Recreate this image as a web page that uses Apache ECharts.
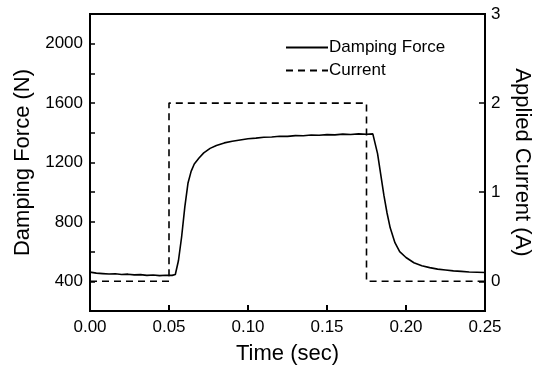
<!DOCTYPE html>
<html>
<head>
<meta charset="utf-8">
<script src="https://cdn.jsdelivr.net/npm/echarts@6/dist/echarts.min.js"></script>
<style>
  html, body { margin: 0; padding: 0; background: #fff; }
  #chart { width: 543px; height: 370px; }
</style>
</head>
<body>
<div id="chart"></div>
<script>
// damping force trace (sec, N)
let forceTime = [0, 0.004, 0.008, 0.012, 0.016, 0.02, 0.024, 0.028, 0.032, 0.036, 0.04, 0.044, 0.048, 0.052, 0.054,
    0.056, 0.058, 0.060, 0.062, 0.064, 0.066, 0.069, 0.072, 0.076, 0.080, 0.085, 0.090, 0.095, 0.100,
    0.105, 0.110, 0.115, 0.120, 0.125, 0.130, 0.135, 0.140, 0.145, 0.150, 0.155, 0.160, 0.165, 0.170,
    0.175, 0.179, 0.180, 0.182, 0.184, 0.186, 0.188, 0.190, 0.193, 0.196, 0.200, 0.205, 0.210, 0.215,
    0.220, 0.225, 0.230, 0.235, 0.240, 0.245, 0.250];
let forceValue = [462, 455, 452, 449, 451, 446, 448, 443, 445, 440, 442, 438, 441, 440, 446,
    540, 700, 900, 1060, 1140, 1190, 1230, 1265, 1295, 1315, 1332, 1343, 1352, 1360,
    1364, 1370, 1372, 1377, 1376, 1381, 1380, 1385, 1384, 1388, 1386, 1391, 1389, 1393,
    1390, 1393, 1380, 1260, 1120, 980, 860, 760, 660, 600, 560, 525, 505, 492,
    482, 476, 470, 467, 463, 461, 459];

// applied current (sec, A)
let currentTime = [0, 0.05, 0.05, 0.175, 0.175, 0.25];
let currentValue = [0, 0, 2, 2, 0, 0];

let xTicks = [0, 0.05, 0.10, 0.15, 0.20, 0.25];
let rightTicks = [0, 1, 2, 3];

function pairs(xs, ys) {
    let d = [];
    xs.forEach(function (x, i) {
        d.push([x, ys[i]]);
    });
    return d;
}

let font = "'Liberation Sans', Arial, sans-serif";
let myEcharts = echarts.init(document.getElementById("chart"));
let option = {
    animation: false,
    grid: {
        left: 90, right: 58, top: 14, bottom: 55,
        show: true, borderColor: "#000", borderWidth: 2
    },
    legend: {
        orient: "vertical",
        left: 280, top: 34,
        itemWidth: 42, itemHeight: 12, itemGap: 6,
        itemStyle: {opacity: 0},
        textStyle: {fontFamily: font, fontSize: 17, color: "#000", padding: [0, 0, 0, -4]},
        data: ["Damping Force", "Current"]
    },
    xAxis: {
        type: "value", min: 0, max: 0.25, interval: 0.05,
        name: "Time (sec)", nameLocation: "middle", nameGap: 32,
        nameTextStyle: {fontFamily: font, fontSize: 22, color: "#000"},
        axisLine: {onZero: false, lineStyle: {color: "#000", width: 2}},
        axisTick: {inside: true, length: 6, lineStyle: {width: 2}},
        axisLabel: {
            fontFamily: font, fontSize: 17, color: "#000", margin: 8,
            customValues: xTicks,
            formatter: function (v) { return v.toFixed(2); }
        },
        splitLine: {show: false}
    },
    yAxis: [
        {
            type: "value", min: 200, max: 2200, interval: 200,
            name: "Damping Force (N)", nameLocation: "middle", nameGap: 56,
            nameTextStyle: {fontFamily: font, fontSize: 22, color: "#000"},
            axisLine: {show: true, onZero: false, lineStyle: {color: "#000", width: 2}},
            axisTick: {inside: true, length: 5, lineStyle: {width: 1.5}},
            axisLabel: {
                fontFamily: font, fontSize: 17, color: "#000", margin: 7,
                formatter: function (v) {
                    return (v % 400 === 0 && v < 2200) ? String(v) : "";
                }
            },
            splitLine: {show: false}
        },
        {
            type: "value", min: -1 / 3, max: 3,
            position: "right",
            name: "Applied Current (A)", nameLocation: "middle", nameGap: 26, nameRotate: -90,
            nameTextStyle: {fontFamily: font, fontSize: 22, color: "#000"},
            axisLine: {show: true, onZero: false, lineStyle: {color: "#000", width: 2}},
            axisTick: {inside: true, length: 6, lineStyle: {width: 1.5}, customValues: rightTicks},
            axisLabel: {
                fontFamily: font, fontSize: 17, color: "#000", margin: 6,
                customValues: rightTicks,
                formatter: function (v) { return String(Math.round(v)); }
            },
            splitLine: {show: false}
        }
    ],
    series: [
        {
            name: "Damping Force",
            type: "line",
            yAxisIndex: 0,
            symbol: "none",
            lineStyle: {color: "#000", width: 1.6},
            itemStyle: {color: "#000"},
            data: pairs(forceTime, forceValue)
        },
        {
            name: "Current",
            type: "line",
            yAxisIndex: 1,
            symbol: "none",
            lineStyle: {color: "#000", width: 1.6, type: [7, 5]},
            itemStyle: {color: "#000"},
            data: pairs(currentTime, currentValue)
        }
    ]
};
myEcharts.setOption(option);
</script>
</body>
</html>
